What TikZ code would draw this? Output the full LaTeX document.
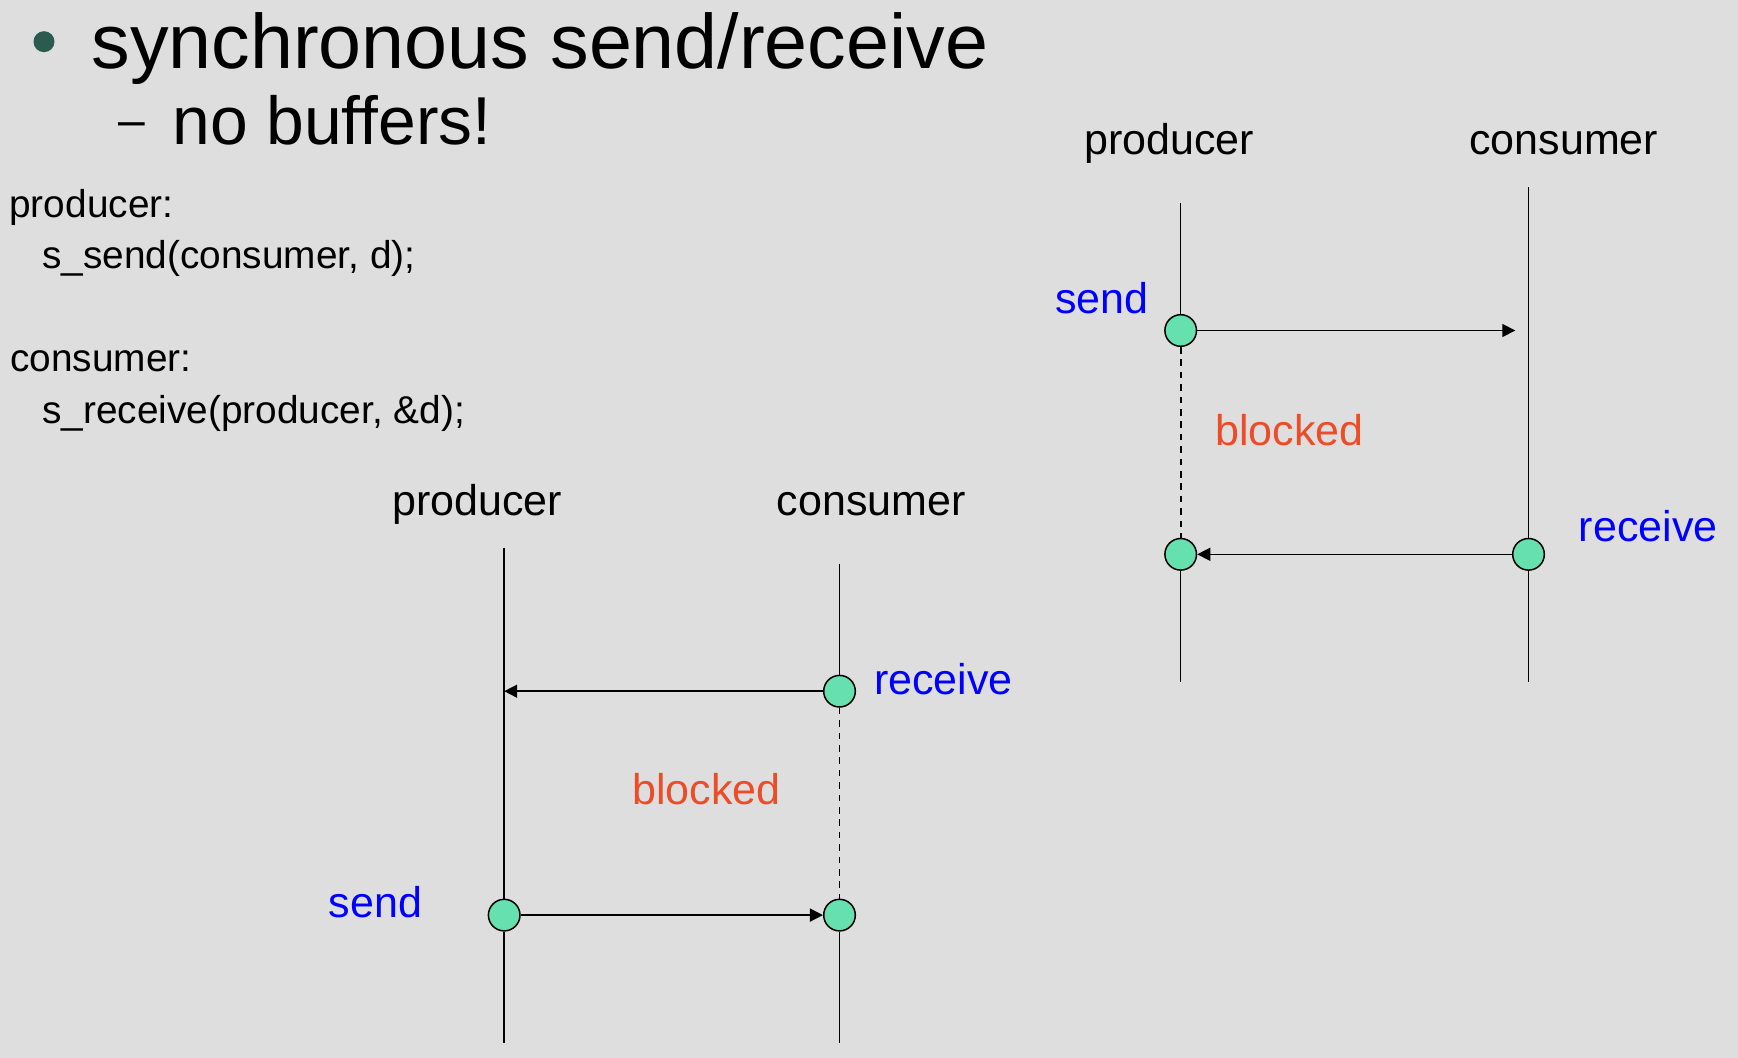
\documentclass[tikz,border=0pt]{standalone}
\usepackage{fontspec}
\setmainfont{Liberation Sans}
\usetikzlibrary{arrows.meta}
\definecolor{bg}{RGB}{222,222,222}
\definecolor{dot}{RGB}{102,224,174}
\definecolor{bul}{RGB}{42,91,78}
\definecolor{blk}{RGB}{236,76,40}
\definecolor{lbl}{RGB}{0,0,255}
\tikzset{
  txt/.style={inner sep=0pt, anchor=base west},
  titlefont/.style={txt, font=\fontsize{38.6pt}{46pt}\selectfont},
  subfont/.style={txt, font=\fontsize{33.9pt}{40pt}\selectfont},
  codefont/.style={txt, font=\fontsize{19.4pt}{23pt}\selectfont},
  dfont/.style={txt, font=\fontsize{21.5pt}{26pt}\selectfont},
  evlabel/.style={dfont, text=lbl},
  blklabel/.style={dfont, text=blk},
  event/.style={circle, draw=black, fill=dot, line width=0.75pt, minimum size=15.8pt, inner sep=0pt},
  life/.style={line width=0.75pt},
  wait/.style={line width=0.8pt, dash pattern=on 3.3pt off 2.9pt},
  msg/.style={line width=0.75pt, -{Triangle[length=6.5pt,width=6.5pt]}}
}
\begin{document}
\begin{tikzpicture}[x=0.5pt,y=-0.5pt]
\fill[bg] (0,0) rectangle (1738,1058);
\useasboundingbox (0,0) rectangle (1738,1058);
% header
\fill[bul] (44,41.7) circle (10.5);
\node[titlefont] (title) at (91,68.3) {synchronous send/receive};
\node[txt, font=\fontsize{24pt}{28pt}\selectfont] (dash) at (118,137) {–};
\node[subfont] (sub) at (172,145) {no buffers!};
% code
\node[codefont] (c1) at (9,218) {producer:};
\node[codefont] (c2) at (42,269) {s\_send(consumer, d);};
\node[codefont] (c3) at (10,371.7) {consumer:};
\node[codefont] (c4) at (42,423.3) {s\_receive(producer, \&d);};

% right diagram
\node[dfont] (rp) at (1084,154.7) {producer};
\node[dfont] (rc) at (1469,154.7) {consumer};
\coordinate (rpTop) at (1180.7,202.6);
\coordinate (rpBot) at (1180.7,681.7);
\coordinate (rcTop) at (1528.5,187.3);
\coordinate (rcBot) at (1528.5,681.7);
\node[event] (rS) at (1180.7,330.5) {};
\node[event] (rRp) at (1180.7,554.3) {};
\node[event] (rRc) at (1528.5,554.3) {};
\coordinate (rTip) at (1515.3,330.5);
\draw[life] (rpTop) -- (rS);
\draw[wait] (rS) -- (rRp);
\draw[life] (rRp) -- (rpBot);
\draw[life] (rcTop) -- (rRc);
\draw[life] (rRc) -- (rcBot);
\draw[msg] (rS) -- (rTip);
\draw[msg] (rRc) -- (rRp);
\node[evlabel, anchor=base east] (rsend) at (1149,314) {send};
\node[blklabel] (rblk) at (1215,445) {blocked};
\node[evlabel] (rrecv) at (1578.5,541) {receive};

% bottom diagram
\node[dfont] (bp) at (392,515) {producer};
\node[dfont] (bc) at (776.5,515) {consumer};
\coordinate (bpTop) at (504.2,547.6);
\coordinate (bpBot) at (504.2,1042.6);
\coordinate (bcTop) at (839.5,563.7);
\coordinate (bcBot) at (839.5,1042.6);
\node[event] (bRc) at (839.5,691.2) {};
\node[event] (bSc) at (839.5,915.1) {};
\node[event] (bSp) at (504.2,915.1) {};
\coordinate (bTip) at (504.2,691.2);
\draw[life] (bpTop) -- (bSp);
\draw[life] (bSp) -- (bpBot);
\draw[life] (bcTop) -- (bRc);
\draw[wait] (bRc) -- (bSc);
\draw[life] (bSc) -- (bcBot);
\draw[msg] (bRc) -- (bTip);
\draw[msg] (bSp) -- (bSc);
\node[evlabel] (brecv) at (873.6,694.2) {receive};
\node[blklabel] (bblk) at (632,804.8) {blocked};
\node[evlabel] (bsend) at (328.5,917.3) {send};
\end{tikzpicture}
\end{document}
